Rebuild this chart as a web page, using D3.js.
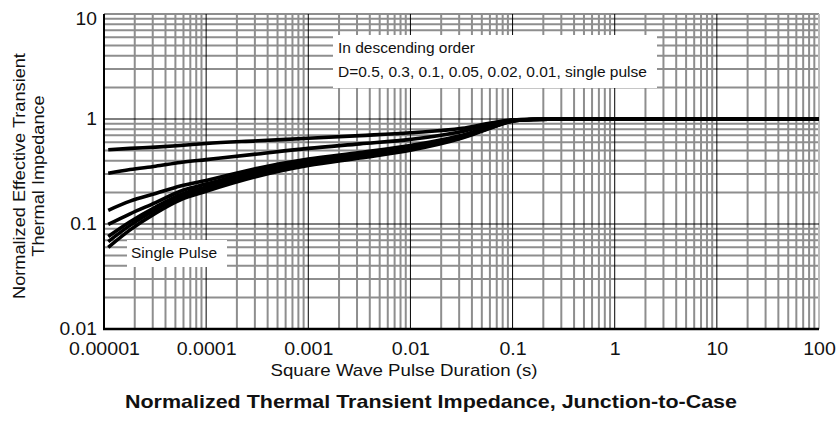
<!DOCTYPE html>
<html><head><meta charset="utf-8">
<script src="https://cdn.jsdelivr.net/npm/d3@7"></script>
<style>body{margin:0;background:#fff}svg{display:block}text{font-family:"Liberation Sans",Arial,sans-serif;fill:#111}</style>
</head><body><svg id="c" width="840" height="423"></svg>
<script>
// pulse duration (s)
const durations = [1.1e-5, 1.8e-5, 3.2e-5, 5.6e-5, 1e-4, 3.2e-4, 1e-3, 3.2e-3, 1e-2, 3.2e-2, 6.3e-2, 0.1, 0.16, 0.32, 1, 10, 100];
const seriesNames = ["D=0.5", "D=0.3", "D=0.1", "D=0.05", "D=0.02", "D=0.01", "Single Pulse"];
const d05  = [0.51, 0.525, 0.54, 0.56, 0.585, 0.62, 0.655, 0.695, 0.74, 0.815, 0.92, 0.98, 0.995, 1.0, 1.0, 1.0, 1.0];
const d03  = [0.305, 0.33, 0.355, 0.385, 0.41, 0.465, 0.525, 0.58, 0.64, 0.76, 0.90, 0.975, 0.995, 1.0, 1.0, 1.0, 1.0];
const d01  = [0.135, 0.165, 0.195, 0.23, 0.26, 0.34, 0.415, 0.48, 0.56, 0.70, 0.86, 0.97, 0.99, 1.0, 1.0, 1.0, 1.0];
const d005 = [0.099, 0.125, 0.16, 0.205, 0.24, 0.32, 0.395, 0.46, 0.54, 0.685, 0.85, 0.965, 0.99, 1.0, 1.0, 1.0, 1.0];
const d002 = [0.076, 0.105, 0.145, 0.19, 0.225, 0.305, 0.38, 0.445, 0.525, 0.675, 0.84, 0.96, 0.99, 1.0, 1.0, 1.0, 1.0];
const d001 = [0.068, 0.097, 0.137, 0.18, 0.215, 0.295, 0.37, 0.435, 0.515, 0.67, 0.835, 0.96, 0.99, 1.0, 1.0, 1.0, 1.0];
const single = [0.06, 0.088, 0.127, 0.17, 0.205, 0.285, 0.36, 0.425, 0.505, 0.66, 0.83, 0.955, 0.99, 1.0, 1.0, 1.0, 1.0];
const xTickLabels = ["0.00001", "0.0001", "0.001", "0.01", "0.1", "1", "10", "100"];
const yTickLabels = ["0.01", "0.1", "1", "10"];
const xTitle = "Square Wave Pulse Duration (s)";
const yTitle = ["Normalized Effective Transient", "Thermal Impedance"];
const chartTitle = "Normalized Thermal Transient Impedance, Junction-to-Case";
const legendLines = ["In descending order", "D=0.5, 0.3, 0.1, 0.05, 0.02, 0.01, single pulse"];

const allSeries = [d05, d03, d01, d005, d002, d001, single];
const svg = d3.select("#c");
const L = 104, R = 819, T = 14, B = 329;
const x = d3.scaleLog().domain([1e-5, 100]).range([L, R]);
const y = d3.scaleLog().domain([0.01, 10]).range([B, T]);

function stretch(sel, k) {
  sel.each(function () {
    const w = this.getComputedTextLength();
    d3.select(this).attr("textLength", w * k).attr("lengthAdjust", "spacingAndGlyphs");
  });
}

const xMajor = xTickLabels.map(Number);
const yMajor = yTickLabels.map(Number);
const xMinor = [], yMinor = [];
for (let e = -5; e < 2; e++) for (let k = 2; k <= 9; k++) xMinor.push(k * Math.pow(10, e));
for (let e = -2; e < 1; e++) for (let k = 2; k <= 9; k++) yMinor.push(k * Math.pow(10, e));

const grid = svg.append("g");
grid.selectAll(".vx").data(xMinor).join("line")
  .attr("x1", d => x(d)).attr("x2", d => x(d)).attr("y1", T).attr("y2", B)
  .attr("stroke", "#8e8e8e").attr("stroke-width", 2);
grid.selectAll(".hy").data(yMinor).join("line")
  .attr("y1", d => y(d)).attr("y2", d => y(d)).attr("x1", L).attr("x2", R)
  .attr("stroke", "#8e8e8e").attr("stroke-width", 2);
grid.append("line").attr("x1", L).attr("x2", R).attr("y1", y(10)).attr("y2", y(10)).attr("stroke", "#8e8e8e").attr("stroke-width", 2);
grid.append("line").attr("x1", x(100)).attr("x2", x(100)).attr("y1", T).attr("y2", B).attr("stroke", "#bdbdbd").attr("stroke-width", 2);
grid.selectAll(".mx").data(xMajor.slice(1, -1)).join("line")
  .attr("x1", d => x(d)).attr("x2", d => x(d)).attr("y1", T).attr("y2", B)
  .attr("stroke", "#000").attr("stroke-width", 1);
grid.selectAll(".my").data(yMajor.slice(1, -1)).join("line")
  .attr("y1", d => y(d)).attr("y2", d => y(d)).attr("x1", L).attr("x2", R)
  .attr("stroke", "#000").attr("stroke-width", 1);

// axes
const xAxis = d3.axisBottom(x).tickValues(xMajor).tickSize(0).tickPadding(14)
  .tickFormat((d, i) => xTickLabels[i]);
const gx = svg.append("g").attr("transform", `translate(0,${B})`).call(xAxis);
gx.select(".domain").attr("stroke", "#000").attr("stroke-width", 2.5).attr("d", `M${L - 1},0H${R}`);
gx.selectAll("text").attr("font-size", 17.5).attr("fill", "#111").attr("font-family", "Liberation Sans, Arial, sans-serif");
stretch(gx.selectAll("text"), 1.12);

const yAxis = d3.axisLeft(y).tickValues(yMajor).tickSize(0).tickPadding(7)
  .tickFormat((d, i) => yTickLabels[i]);
const gy = svg.append("g").attr("transform", `translate(${L},0)`).call(yAxis);
gy.select(".domain").attr("stroke", "#000").attr("stroke-width", 2).attr("d", `M0,${T}V${B + 1}`);
gy.selectAll("text").attr("font-size", 17.5).attr("fill", "#111").attr("font-family", "Liberation Sans, Arial, sans-serif");
gy.selectAll(".tick").filter(d => d === 10).select("text").attr("dy", "0.6em");
stretch(gy.selectAll("text"), 1.1);

// curves
const line = d3.line().x(d => x(d[0])).y(d => y(d[1])).curve(d3.curveMonotoneX);
svg.append("g").selectAll("path").data(allSeries).join("path")
  .attr("d", s => line(durations.map((t, i) => [t, s[i]])))
  .attr("fill", "none").attr("stroke", "#000").attr("stroke-width", 3.6);

// legend box
const lg = svg.append("g");
lg.append("rect").attr("x", 333).attr("y", 35).attr("width", 324).attr("height", 53).attr("fill", "#fff");
lg.selectAll("text").data(legendLines).join("text")
  .attr("x", 338).attr("y", (d, i) => 53 + i * 24).attr("font-size", 15.5).text(d => d);

const sp = svg.append("g");
sp.append("rect").attr("x", 127).attr("y", 240).attr("width", 100).attr("height", 27).attr("fill", "#fff");
sp.append("text").attr("x", 131).attr("y", 258).attr("font-size", 15.5).text(seriesNames[6]);

// titles
svg.append("text").attr("x", 404).attr("y", 376).attr("text-anchor", "middle").attr("font-size", 17)
  .attr("textLength", 267).attr("lengthAdjust", "spacingAndGlyphs").text(xTitle);
svg.append("text").attr("x", 431).attr("y", 408).attr("text-anchor", "middle").attr("font-size", 19).attr("font-weight", "bold")
  .attr("textLength", 612).attr("lengthAdjust", "spacingAndGlyphs").text(chartTitle);
const yt = svg.append("g").attr("transform", "translate(0,176) rotate(-90)");
yt.selectAll("text").data(yTitle).join("text")
  .attr("x", 0).attr("y", (d, i) => 25 + i * 19).attr("text-anchor", "middle").attr("font-size", 16.5).text(d => d);
stretch(yt.selectAll("text"), 1.1);
</script></body></html>
